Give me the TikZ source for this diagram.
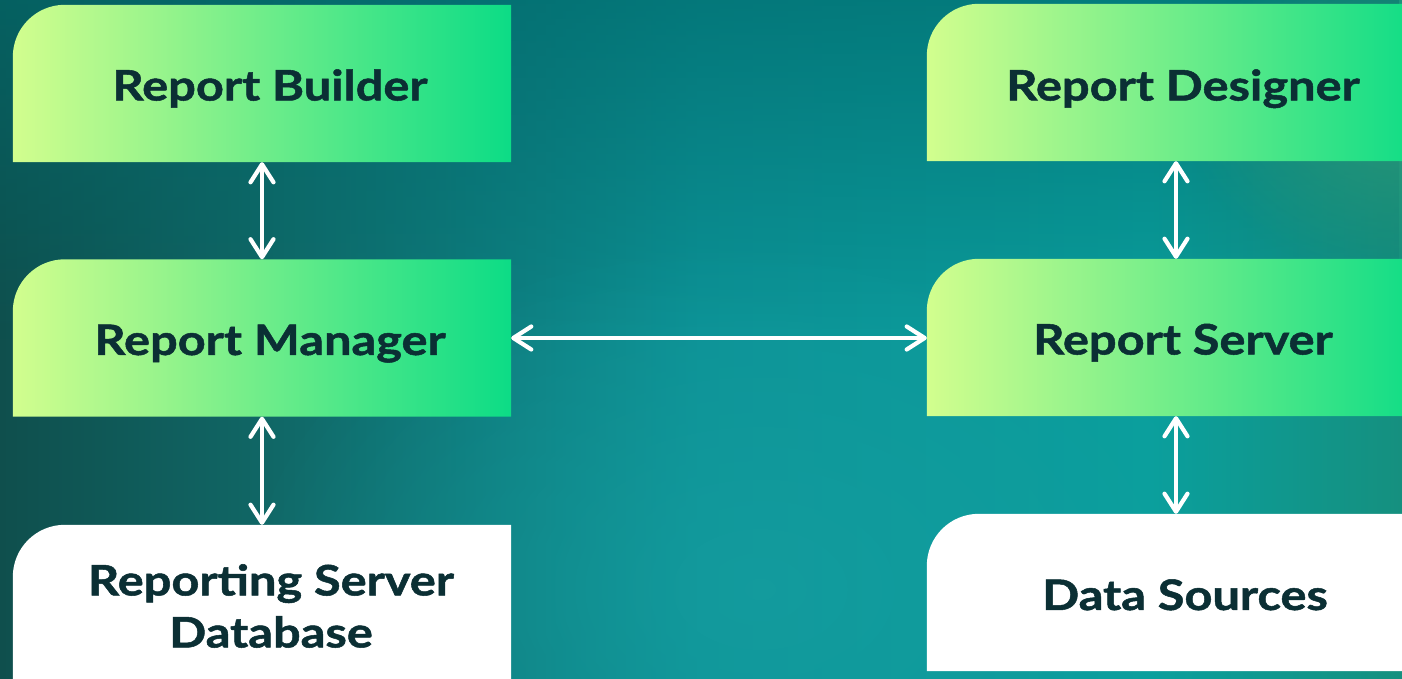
\documentclass[tikz,border=0pt]{standalone}
\usepackage{fontspec}
\setmainfont{Lato}[BoldFeatures={FakeStretch=1.16,FakeBold=1.2}]
\usetikzlibrary{arrows.meta,fadings}

\definecolor{bga}{HTML}{0F4F4D}
\definecolor{bgb}{HTML}{106A69}
\definecolor{bgc}{HTML}{0C9296}
\definecolor{bgd}{HTML}{0A9F9D}
\definecolor{bge}{HTML}{15907F}
\definecolor{topshade}{HTML}{006A6C}
\definecolor{glow}{HTML}{18A0A2}
\definecolor{cornerglow}{HTML}{2E9C78}
\definecolor{boxleft}{HTML}{D2FE8E}
\definecolor{boxmid}{HTML}{A6F090}
\definecolor{boxright}{HTML}{0CDC86}
\definecolor{ink}{HTML}{0B2F34}

% left-to-right backdrop (path box maps to 25bp..75bp)
\pgfdeclarehorizontalshading{backdrop}{100bp}{%
  color(0bp)=(bga); color(25bp)=(bga); color(35.7bp)=(bgb);
  color(50bp)=(bgc); color(66bp)=(bgd); color(75bp)=(bge); color(100bp)=(bge)}

\tikzfading[name=fadedown, top color=transparent!35, bottom color=transparent!100]
\tikzfading[name=softspot, inner color=transparent!0, outer color=transparent!100]

% card outline: only the top-left corner is rounded
\newcommand\cardshape[2]{%
  \shade[#2] (#1.south west) -- ([yshift=-52pt]#1.north west)
    arc[start angle=180, end angle=90, radius=52pt]
    -- (#1.north east) -- (#1.south east) -- cycle;}

\begin{document}
\begin{tikzpicture}[x=1pt,y=1pt,
  card/.style={minimum width=498pt, minimum height=157pt, inner sep=0pt},
  txt/.style={font=\bfseries\fontsize{42}{52}\selectfont, text=ink,
    align=center, inner sep=0pt},
  oneline/.style={txt, text height=30pt, text depth=0pt},
  greenfill/.style={left color=boxleft, middle color=boxmid, right color=boxright},
  whitefill/.style={left color=white, right color=white},
  link/.style={draw=white, line width=4.2pt,
    {Straight Barb[length=18pt,width=23pt,round]}-{Straight Barb[length=18pt,width=23pt,round]}},
]
\useasboundingbox (0,0) rectangle (1402,679);
\clip (0,0) rectangle (1402,679);

% background
\shade[shading=backdrop] (0,0) rectangle (1402,679);
\fill[topshade, path fading=fadedown] (0,340) rectangle (1402,679);
\fill[glow, path fading=softspot, opacity=0.6] (760,90) ellipse (520 and 360);
\fill[cornerglow, path fading=softspot, opacity=0.85] (1402,570) ellipse (220 and 170);

% cards
\node[card] (rb)   at (262,595.5) {};
\node[card] (rm)   at (262,341)   {};
\node[card] (rsdb) at (262,75.5)  {};
\node[card] (rd)   at (1176,596.5) {};
\node[card] (rs)   at (1176,341.5) {};
\node[card] (ds)   at (1176,86.5)  {};

\cardshape{rb}{greenfill}
\cardshape{rm}{greenfill}
\cardshape{rsdb}{whitefill}
\cardshape{rd}{greenfill}
\cardshape{rs}{greenfill}
\cardshape{ds}{whitefill}

% captions
\node[oneline] (rbt)   at (270,593.5)  {Report Builder};
\node[oneline] (rmt)   at (270,339)    {Report Manager};
\node[txt]     (rsdbt) at (271,73)     {Reporting Server\\Database};
\node[oneline] (rdt)   at (1183,593.5) {Report Designer};
\node[oneline] (rst)   at (1183,339.5) {Report Server};
\node[oneline] (dst)   at (1185,84)    {Data Sources};

% connectors
\draw[link] (rb.south) -- (rm.north);
\draw[link] (rm.south) -- (rsdb.north);
\draw[link] (rd.south) -- (rs.north);
\draw[link] (rs.south) -- (ds.north);
\draw[link] (rm.east) -- (rm.east -| rs.west);
\end{tikzpicture}
\end{document}
